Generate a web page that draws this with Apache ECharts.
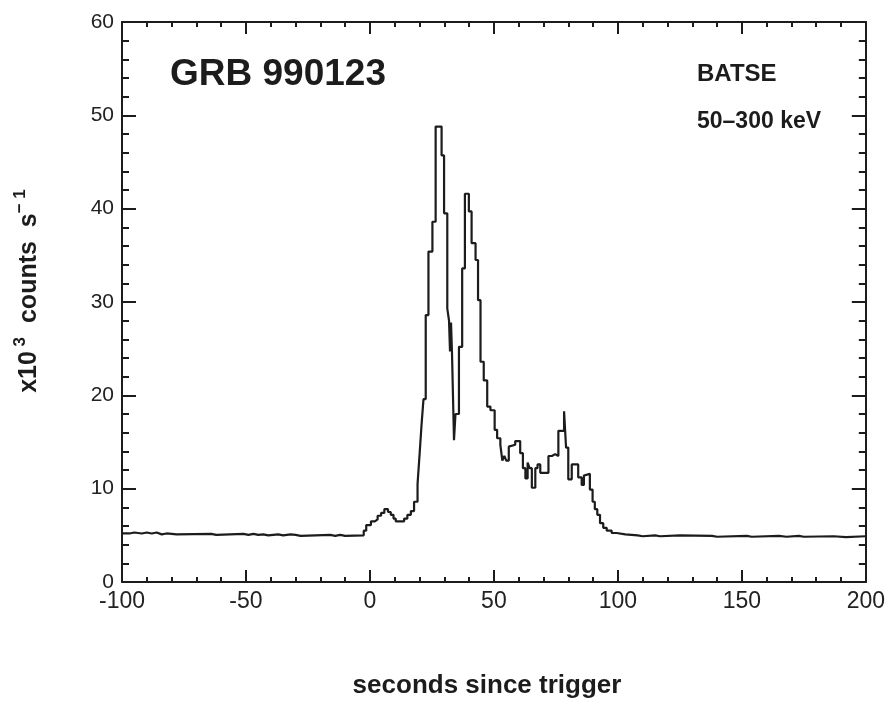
<!DOCTYPE html>
<html lang="en">
<head>
    <meta charset="UTF-8">
    <title>GRB 990123</title>
    <script src="https://cdn.jsdelivr.net/npm/echarts@6/dist/echarts.min.js"></script>
    <style>
        html, body { margin: 0; padding: 0; background: #fff; }
        #chart { width: 888px; height: 701px; }
    </style>
</head>
<body>
<div id="chart"></div>
<script type="text/javascript">
    // seconds since trigger (start of each bin) and count rate in 10^3 counts/s
    var times = [
        -100, -97, -95, -92, -90, -88, -86, -84, -82, -78,
        -64, -62, -51, -49, -47, -45, -43, -41, -37, -35,
        -32, -30, -28, -16, -14, -12, -10,
        -2.5, -1.5, 0.4, 2, 3.1, 4.5, 5.8, 7.3, 8.4, 9.5,
        10.4, 13.8, 15.1, 16.5, 17.8, 19.2, 20.0, 20.8, 21.6, 22.5,
        23.6, 25.2, 26.5, 28.9, 29.9, 31.2, 31.9, 32.3, 32.7, 33.1,
        33.9, 34.5, 35.9, 37.2, 38.3, 39.9, 41.0, 42.6, 43.6, 44.6,
        45.9, 47.3, 48.6, 50.3, 51.3, 52.6, 53.4, 54.2, 55.0, 56.0,
        56.8, 58.6, 60.6, 61.7, 62.7, 63.6, 64.4, 65.3, 66.7, 67.6,
        68.7, 72.0, 73.4, 74.7, 76.0, 78.3, 79.1, 80.0, 81.4, 84.0,
        85.4, 86.3, 87.1, 88.7, 89.8, 90.7, 91.7, 92.8, 94.1, 95.5,
        97.5, 99.5, 103, 108, 110, 115, 117, 125, 138, 140,
        152, 154, 165, 168, 173, 175, 187, 192, 200
    ];
    var rates = [
        5.2, 5.3, 5.2, 5.3, 5.2, 5.3, 5.1, 5.2, 5.1, 5.15,
        5.05, 5.15, 5.05, 5.15, 5.05, 5.1, 5.0, 5.1, 5.0, 5.1,
        5.05, 4.95, 5.05, 4.95, 5.05, 4.95, 5.0,
        5.5, 6.1, 6.5, 6.7, 7.1, 7.4, 7.8, 7.5, 7.2, 6.8,
        6.5, 6.8, 7.2, 7.6, 8.6, 10.5, 13.6, 16.8, 19.6, 28.6,
        35.4, 38.6, 48.8, 45.7, 39.5, 29.3, 28.0, 24.7, 27.8, 24.5,
        15.2, 18.0, 25.2, 33.6, 41.6, 39.7, 36.3, 34.5, 30.2, 23.6,
        21.6, 18.8, 18.4, 16.3, 15.4, 14.7, 13.0, 13.5, 13.0, 14.5,
        14.7, 15.1, 13.8, 12.2, 11.1, 12.8, 12.2, 10.1, 12.2, 12.6,
        11.7, 13.5, 13.7, 13.5, 16.2, 18.3, 14.4, 11.0, 12.6, 11.2,
        10.4, 11.4, 11.6, 9.9, 8.6, 7.8, 7.2, 6.3, 5.8, 5.5,
        5.25, 5.1, 5.0, 4.9, 5.0, 4.9, 5.0, 4.95, 4.85, 4.95,
        4.85, 4.95, 4.85, 4.95, 4.85, 4.9, 4.8, 4.9, 4.9
    ];
    var xTicks = [-100, 200, 50];   // min, max, step
    var yTicks = [0, 60, 10];

    var ink = '#1c1c1c';
    var fontName = '"Liberation Sans", Arial, sans-serif';

    var chart = echarts.init(document.getElementById('chart'));

    function xAxisCfg(pos) {
        return {
            type: 'value', position: pos,
            min: xTicks[0], max: xTicks[1], interval: xTicks[2],
            axisLine: { show: true, onZero: false, lineStyle: { color: ink, width: 2 } },
            axisTick: { show: true, inside: true, length: 12, lineStyle: { color: ink, width: 2 } },
            minorTick: { show: true, splitNumber: 5, length: 5, lineStyle: { color: ink, width: 2 } },
            axisLabel: {
                show: pos === 'bottom', margin: 8, color: '#222',
                fontFamily: fontName, fontSize: 23
            },
            splitLine: { show: false }
        };
    }
    function yAxisCfg(pos) {
        return {
            type: 'value', position: pos,
            min: yTicks[0], max: yTicks[1], interval: yTicks[2],
            axisLine: { show: true, onZero: false, lineStyle: { color: ink, width: 2 } },
            axisTick: { show: true, inside: true, length: 14, lineStyle: { color: ink, width: 2 } },
            minorTick: { show: true, splitNumber: 5, length: 7, lineStyle: { color: ink, width: 2 } },
            axisLabel: {
                show: pos === 'left', margin: 8, color: '#222',
                fontFamily: fontName, fontSize: 21
            },
            splitLine: { show: false }
        };
    }

    chart.setOption({
        backgroundColor: '#fff',
        animation: false,
        grid: { left: 122, right: 21, top: 22, bottom: 119 },
        xAxis: [xAxisCfg('bottom'), xAxisCfg('top')],
        yAxis: [yAxisCfg('left'), yAxisCfg('right')],
        series: [{
            type: 'line',
            step: 'end',
            symbol: 'none',
            xAxisIndex: 0, yAxisIndex: 0,
            lineStyle: { color: ink, width: 2.2 },
            data: times.map(function (t, i) { return [t, rates[i]]; })
        }],
        graphic: [
            {
                type: 'text', x: 170, y: 75,
                style: { text: 'GRB 990123', font: 'bold 37px ' + fontName, fill: ink, verticalAlign: 'middle' }
            },
            {
                type: 'text', x: 697, y: 74,
                style: { text: 'BATSE', font: 'bold 24px ' + fontName, fill: ink, verticalAlign: 'middle' }
            },
            {
                type: 'text', x: 697, y: 122,
                style: { text: '50\u2013300 keV', font: 'bold 23px ' + fontName, fill: ink, verticalAlign: 'middle' }
            },
            {
                type: 'text', x: 487, y: 686,
                style: {
                    text: 'seconds since trigger', font: 'bold 26px ' + fontName, fill: ink,
                    align: 'center', verticalAlign: 'middle'
                }
            },
            {
                type: 'text', x: 27, y: 291, rotation: Math.PI / 2,
                style: {
                    text: '{m|x10}{s| 3}{m|  counts  s}{s|\u2212 1}',
                    align: 'center', verticalAlign: 'middle',
                    rich: {
                        m: { font: 'bold 25px ' + fontName, fill: ink, lineHeight: 30, verticalAlign: 'bottom' },
                        s: { font: 'bold 17px ' + fontName, fill: ink, lineHeight: 30, verticalAlign: 'top' }
                    }
                }
            }
        ]
    });
</script>
</body>
</html>
